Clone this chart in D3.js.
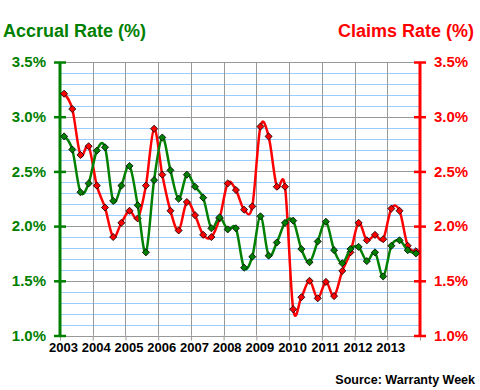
<!DOCTYPE html>
<html><head><meta charset="utf-8">
<script src="https://cdn.jsdelivr.net/npm/d3@7"></script>
<style>body{margin:0;background:#fff}svg{display:block}text{font-family:"Liberation Sans",Arial,sans-serif;font-weight:bold}</style>
</head><body><svg id="c" width="480" height="390"></svg>
<script>
const years = [2003,2004,2005,2006,2007,2008,2009,2010,2011,2012,2013];
const yTicks = [1.0,1.5,2.0,2.5,3.0,3.5];
const accrual = [2.82,2.70,2.31,2.39,2.69,2.72,2.23,2.37,2.55,2.19,1.76,2.42,2.81,2.51,2.25,2.47,2.36,2.26,1.98,2.08,1.97,1.98,1.62,1.72,2.09,1.73,1.85,2.03,2.05,1.79,1.67,1.86,2.04,1.78,1.66,1.79,1.81,1.68,1.76,1.54,1.82,1.87,1.78,1.75];
const claims = [3.21,3.07,2.65,2.73,2.37,2.17,1.90,2.03,2.14,2.07,2.37,2.89,2.47,2.14,1.96,2.22,2.10,1.92,1.90,2.07,2.39,2.33,2.15,2.18,2.91,2.82,2.36,2.36,1.24,1.35,1.50,1.34,1.49,1.36,1.59,1.76,2.03,1.87,1.92,1.88,2.16,2.14,1.82,1.77];

const GREEN="#008000", RED="#ff0000";
const svg=d3.select("#c");
const L=60,R=420,T=62,B=335.5;
const x=d3.scaleLinear().domain([2003,2014]).range([L,R]);
const y=d3.scaleLinear().domain([1.0,3.5]).range([B,T]);
const xq=i=>x(2003+(i+0.5)/4);

// minor gridlines
const minor=d3.range(10,36).map(v=>v/10).filter(v=>Math.abs(v*2-Math.round(v*2))>1e-6);
svg.append("g").selectAll("line").data(minor).join("line")
  .attr("x1",L).attr("x2",R).attr("y1",d=>Math.round(y(d))+0.5).attr("y2",d=>Math.round(y(d))+0.5)
  .attr("stroke","#99ccff").attr("stroke-width",1);
// major gridlines
svg.append("g").selectAll("line").data(yTicks).join("line")
  .attr("x1",L).attr("x2",R).attr("y1",d=>Math.round(y(d))+0.5).attr("y2",d=>Math.round(y(d))+0.5)
  .attr("stroke","#999").attr("stroke-width",1);
svg.append("g").selectAll("line").data(years.slice(1)).join("line")
  .attr("x1",d=>Math.round(x(d))+0.5).attr("x2",d=>Math.round(x(d))+0.5).attr("y1",T).attr("y2",B)
  .attr("stroke","#999").attr("stroke-width",1);

// x axis
const xAxis=d3.axisBottom(x).tickValues(years.concat([2014])).tickSize(5).tickFormat(d=>d<2014?d:"");
const gx=svg.append("g").attr("transform",`translate(0,${B})`).call(xAxis);
gx.select(".domain").remove();
gx.selectAll(".tick line").attr("stroke","#999");
gx.selectAll(".tick text").attr("fill","#000").attr("font-size",13).attr("dx",3).attr("dy",8.5)
  .style("font-family","'Liberation Sans',Arial,sans-serif").style("font-weight","bold");

// left axis
const gl=svg.append("g").attr("transform",`translate(${L},0)`).call(d3.axisLeft(y).tickValues(yTicks).tickSize(6).tickFormat(d=>d.toFixed(1)+"%"));
gl.select(".domain").attr("stroke",GREEN).attr("stroke-width",3).attr("d",`M0,${T}V${B}`);
gl.selectAll(".tick line").attr("stroke",GREEN).attr("stroke-width",2.5).attr("x1",6).attr("x2",-6);
gl.selectAll(".tick text").attr("fill",GREEN).attr("font-size",15).attr("x",-14)
  .style("font-family","'Liberation Sans',Arial,sans-serif").style("font-weight","bold");

// right axis
const gr=svg.append("g").attr("transform",`translate(${R},0)`).call(d3.axisRight(y).tickValues(yTicks).tickSize(6).tickFormat(d=>d.toFixed(1)+"%"));
gr.select(".domain").attr("stroke",RED).attr("stroke-width",3).attr("d",`M0,${T}V${B}`);
gr.selectAll(".tick line").attr("stroke",RED).attr("stroke-width",2.5).attr("x1",-6).attr("x2",6);
gr.selectAll(".tick text").attr("fill",RED).attr("font-size",15).attr("x",14)
  .style("font-family","'Liberation Sans',Arial,sans-serif").style("font-weight","bold");

// lines
const line=d3.line().x((d,i)=>xq(i)).y(d=>y(d)).curve(d3.curveCardinal.tension(0));
function series(data,color){
  svg.append("path").datum(data).attr("d",line).attr("fill","none").attr("stroke",color).attr("stroke-width",2.5);
}
function markers(data,color){
  svg.append("g").selectAll("path").data(data).join("path")
    .attr("d",d3.symbol(d3.symbolDiamond2,32))
    .attr("transform",(d,i)=>`translate(${xq(i)},${y(d)})`)
    .attr("fill",color).attr("stroke","#000").attr("stroke-width",0.8);
}
series(claims,RED);
markers(claims,RED);
series(accrual,GREEN);
markers(accrual,GREEN);

// titles
svg.append("text").attr("x",3).attr("y",37).attr("font-size",18).attr("fill",GREEN).text("Accrual Rate (%)");
svg.append("text").attr("x",474).attr("y",37).attr("font-size",18).attr("fill",RED).attr("text-anchor","end").text("Claims Rate (%)");
svg.append("text").attr("x",475).attr("y",384).attr("font-size",12.5).attr("fill","#000").attr("text-anchor","end").text("Source: Warranty Week");
</script></body></html>
